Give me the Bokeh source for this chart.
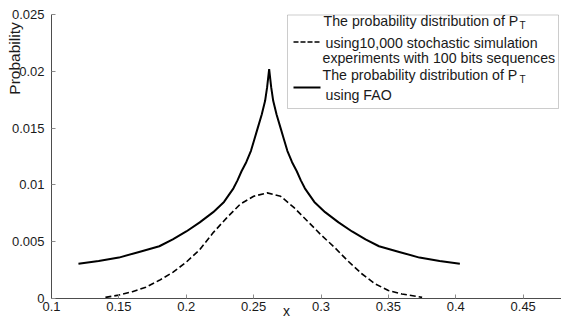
import math
from bokeh.plotting import figure
from bokeh.models import (Range1d, FixedTicker, CustomJSTickFormatter, Label,
                          BoxAnnotation, Arrow, LinearAxis)
from bokeh.embed import file_html
from bokeh.resources import INLINE

# ---- data ----
x_fao = [0.12, 0.135, 0.15, 0.165, 0.18, 0.19, 0.20, 0.21, 0.22, 0.228, 0.2315,
         0.235, 0.238, 0.241, 0.2445, 0.248, 0.2505, 0.253, 0.256, 0.2585, 0.260,
         0.2615, 0.263, 0.2645, 0.267, 0.270, 0.2725, 0.275, 0.2785, 0.282,
         0.285, 0.288, 0.2915, 0.295, 0.303, 0.313, 0.323, 0.333, 0.343, 0.358,
         0.373, 0.388, 0.403]
y_fao = [0.00305, 0.0033, 0.0036, 0.0041, 0.0046, 0.0052, 0.0059, 0.0067, 0.0076,
         0.0085, 0.0091, 0.0097, 0.0104, 0.0112, 0.0120, 0.0130, 0.0140, 0.0150,
         0.0162, 0.0174, 0.0186, 0.0202, 0.0186, 0.0174, 0.0162, 0.0150, 0.0140,
         0.0130, 0.0120, 0.0112, 0.0104, 0.0097, 0.0091, 0.0085, 0.0076, 0.0067,
         0.0059, 0.0052, 0.0046, 0.0041, 0.0036, 0.0033, 0.00305]

x_sim = [0.14, 0.15, 0.16, 0.17, 0.18, 0.19, 0.20, 0.21, 0.22, 0.23, 0.24, 0.25,
         0.26, 0.27, 0.28, 0.29, 0.30, 0.31, 0.32, 0.33, 0.34, 0.35, 0.36, 0.375]
y_sim = [0.0001, 0.0003, 0.0006, 0.0010, 0.0016, 0.0023, 0.0032, 0.0043, 0.0058,
         0.0071, 0.0083, 0.0090, 0.0093, 0.0090, 0.0080, 0.0068, 0.0056, 0.0045,
         0.0033, 0.0022, 0.0013, 0.0007, 0.0004, 0.0001]

x_ticks = [0.1, 0.15, 0.2, 0.25, 0.3, 0.35, 0.4, 0.45]
y_ticks = [0, 0.005, 0.01, 0.015, 0.02, 0.025]
x_axis_start, y_axis_start, y_axis_end = 0.1, 0.0, 0.025

legend_sim = ["The probability distribution of P",
              "using10,000 stochastic simulation",
              "experiments with 100 bits sequences"]
legend_fao = ["The probability distribution of P", "using FAO"]
subscript = "T"
y_label = "Probability"
x_label = "x"

FONT = "Liberation Sans"
TXT = "#1a1a1a"

# pixel geometry of the axes box (frame covers whole canvas)
W, H = 561, 320
AX_L, AX_T, AX_B = 51, 14, 298
xppu = (522.7 - AX_L) / (0.45 - x_axis_start)
yppu = (AX_B - AX_T) / (y_axis_end - y_axis_start)
x0 = x_axis_start - AX_L / xppu
x1 = x_axis_start + (W - AX_L) / xppu
y0 = y_axis_start - (H - AX_B) / yppu
y1 = y_axis_end + AX_T / yppu

p = figure(width=W, height=H, output_backend="svg", toolbar_location=None,
           x_range=Range1d(x0, x1), y_range=Range1d(y0, y1),
           x_axis_location=None, y_axis_location=None,
           min_border_left=0, min_border_right=0, min_border_top=0,
           min_border_bottom=0)
p.outline_line_color = None
p.grid.visible = False
p.background_fill_color = "white"
p.border_fill_color = "white"

fmt = "return String(parseFloat(tick.toFixed(4)));"
xax = LinearAxis(fixed_location=y_axis_start, bounds=(x_axis_start, x1),
                 ticker=FixedTicker(ticks=x_ticks))
yax = LinearAxis(fixed_location=x_axis_start, bounds=(y_axis_start, y_axis_end),
                 ticker=FixedTicker(ticks=y_ticks))
for ax in (xax, yax):
    ax.formatter = CustomJSTickFormatter(code=fmt)
    ax.major_tick_in = 4
    ax.major_tick_out = 0
    ax.minor_tick_line_color = None
    ax.axis_line_color = "#4d4d4d"
    ax.major_tick_line_color = "#8c8c8c"
    ax.major_label_text_font = FONT
    ax.major_label_text_font_size = "13px"
    ax.major_label_text_color = TXT
xax.major_label_standoff = 3
yax.major_label_standoff = 7
p.add_layout(xax, "below")
p.add_layout(yax, "left")

# curves
p.line(x_sim, y_sim, line_color="black", line_width=1.6, line_dash="6 3")
p.line(x_fao, y_fao, line_color="black", line_width=2)

# axis labels
p.add_layout(Label(x=14, y=H - 58, x_units="screen", y_units="screen", text=y_label,
                   angle=math.pi / 2, text_align="center", text_baseline="middle",
                   text_font=FONT, text_font_size="15.5px", text_color=TXT))
p.add_layout(Label(x=286, y=H - 310, x_units="screen", y_units="screen", text=x_label,
                   text_align="center", text_baseline="middle",
                   text_font=FONT, text_font_size="14px", text_color=TXT))

# legend box
p.add_layout(BoxAnnotation(left=287, right=558, top=H - 14.5, bottom=H - 108,
                           left_units="screen", right_units="screen",
                           top_units="screen", bottom_units="screen",
                           fill_color="white", fill_alpha=1.0,
                           line_color="#555555", line_width=1, level="underlay"))
p.add_layout(Arrow(x_start=293, y_start=H - 41.5, x_end=319, y_end=H - 41.5,
                   start_units="screen", end_units="screen", start=None, end=None,
                   line_color="black", line_width=1.6, line_dash="5 2"))
p.add_layout(Arrow(x_start=293, y_start=H - 87, x_end=320, y_end=H - 87,
                   start_units="screen", end_units="screen", start=None, end=None,
                   line_color="black", line_width=2))

LFS = "14.2px"
rows = [(legend_sim[0], 323, 20), (legend_sim[1], 325, 42),
        (legend_sim[2], 322, 57), (legend_fao[0], 322, 74),
        (legend_fao[1], 325, 94)]
for t, X, Y in rows:
    p.add_layout(Label(x=X, y=H - Y, x_units="screen", y_units="screen", text=t,
                       text_align="left", text_baseline="middle",
                       text_font=FONT, text_font_size=LFS, text_color=TXT))
for Y in (25, 79):
    p.add_layout(Label(x=519, y=H - Y, x_units="screen", y_units="screen", text=subscript,
                       text_align="left", text_baseline="middle",
                       text_font=FONT, text_font_size="10px", text_color=TXT))

open("out.html", "w").write(file_html(p, INLINE))
